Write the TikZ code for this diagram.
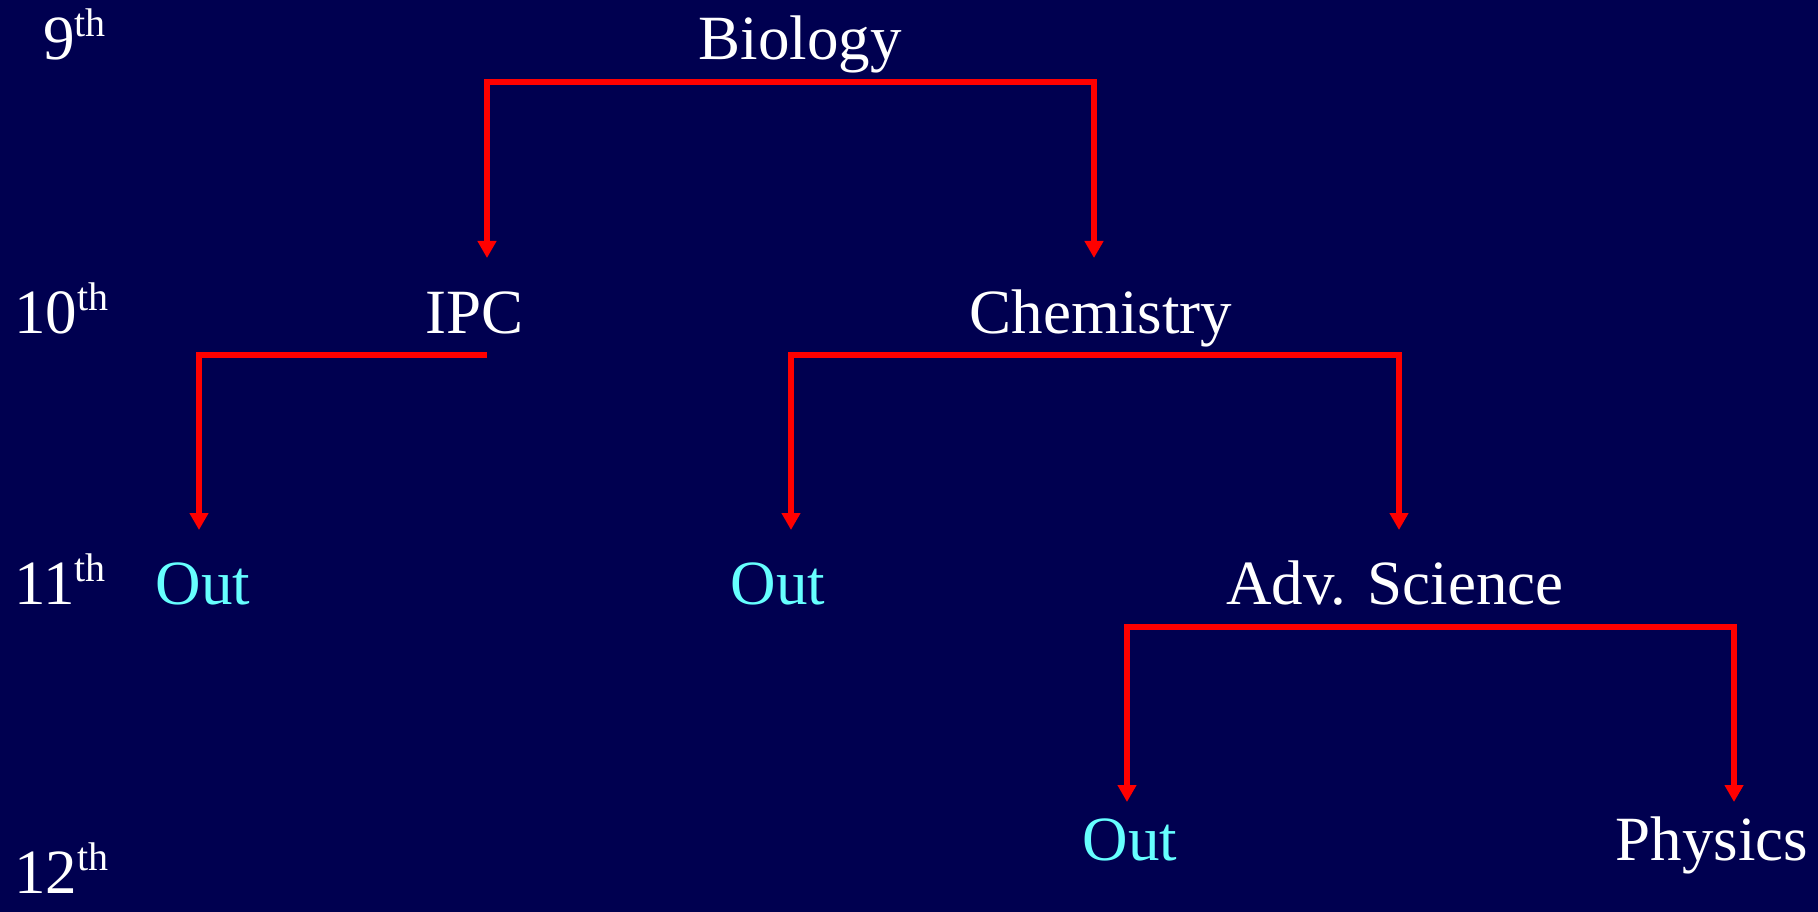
\documentclass[tikz,border=0pt]{standalone}
\usepackage{fontspec}
\setmainfont{Liberation Serif}
\usetikzlibrary{arrows.meta}
\definecolor{bgnavy}{HTML}{000050}
\definecolor{outcyan}{HTML}{66FFFF}
\newcommand\ordsup[1]{\raisebox{23pt}{\fontsize{40}{40}\selectfont #1}}
\tikzset{
  lbl/.style={inner sep=0pt, anchor=base, text=white, font=\fontsize{63}{63}\selectfont},
  outlbl/.style={lbl, text=outcyan},
  rowlbl/.style={lbl, anchor=base west},
  bracket/.style={draw=red, line width=6pt, line join=miter},
  tip/.style={-{Triangle[width=18pt,length=17pt]}},
  tips/.style={{Triangle[width=18pt,length=17pt]}-{Triangle[width=18pt,length=17pt]}}
}
\begin{document}
\begin{tikzpicture}[x=1pt,y=-1pt]
\fill[bgnavy] (0,0) rectangle (1818,912);
\useasboundingbox (0,0) rectangle (1818,912);
% row labels
\node[rowlbl] (r9)  at (43,60)  {9\ordsup{th}};
\node[rowlbl] (r10) at (14,333) {10\ordsup{th}};
\node[rowlbl] (r11) at (14,604) {11\ordsup{th}};
\node[rowlbl] (r12) at (14,893) {12\ordsup{th}};
% subjects
\node[lbl] (bio)  at (800,60)   {Biology};
\node[lbl] (ipc)  at (475,333)  {IPC};
\node[lbl] (chem) at (1101,333) {Chemistry};
\node[outlbl] (out1) at (203,604)  {Out};
\node[outlbl] (out2) at (778,604)  {Out};
\node[lbl] (adv)  at (1395,604) {Adv. Science};
\node[outlbl] (out3) at (1130,860) {Out};
\node[lbl] (phys) at (1712,860) {Physics};
% bracket coordinates
\coordinate (bioL) at (487,82);   \coordinate (bioR) at (1094,82);
\coordinate (ipcT) at (487,258);  \coordinate (chemT) at (1094,258);
\coordinate (ipcR) at (487,355);  \coordinate (ipcL) at (199,355);
\coordinate (out1T) at (199,530);
\coordinate (chemL) at (791,355); \coordinate (chemR) at (1399,355);
\coordinate (out2T) at (791,530); \coordinate (advT) at (1399,530);
\coordinate (advL) at (1127,627); \coordinate (advR) at (1734,627);
\coordinate (out3T) at (1127,802); \coordinate (physT) at (1734,802);
% connectors
\draw[bracket,tips] (ipcT) -- (bioL) -- (bioR) -- (chemT);
\draw[bracket,tip] (ipcR) -- (ipcL) -- (out1T);
\draw[bracket,tips] (out2T) -- (chemL) -- (chemR) -- (advT);
\draw[bracket,tips] (out3T) -- (advL) -- (advR) -- (physT);
\end{tikzpicture}
\end{document}
